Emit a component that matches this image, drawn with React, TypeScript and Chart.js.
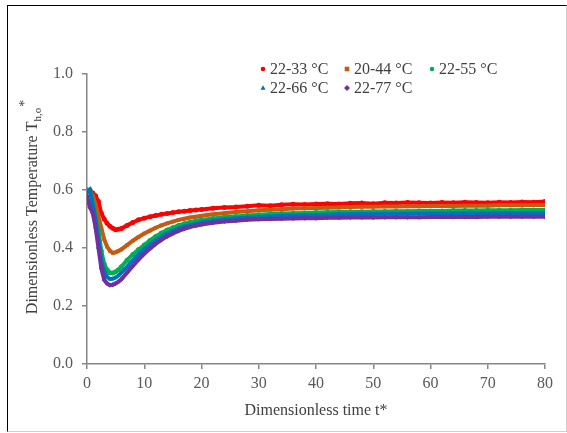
import React, { useEffect, useRef } from "react";
import { Chart, registerables } from "chart.js";

Chart.register(...registerables);

// ---- data ----
const timeValues = [
  0, 0.5, 1, 1.5, 2, 2.5, 3, 3.5, 4, 4.5, 5, 5.5, 6,
  7, 8, 9, 10, 11, 12, 13, 14, 15, 16, 17, 18, 19, 20,
  22, 24, 26, 28, 30, 32, 34, 36, 38, 40, 42, 44, 46, 48, 50, 52, 54, 56, 58, 60,
  62, 64, 66, 68, 70, 72, 74, 76, 78, 80,
];

const series2233 = [
  0.600, 0.600, 0.590, 0.580, 0.560, 0.520, 0.500, 0.485, 0.475, 0.468, 0.463, 0.465, 0.467,
  0.478, 0.488, 0.497, 0.503, 0.508, 0.512, 0.516, 0.519, 0.522, 0.525, 0.527, 0.529, 0.531, 0.533,
  0.537, 0.540, 0.541, 0.544, 0.547, 0.546, 0.549, 0.551, 0.550, 0.552, 0.553, 0.552, 0.554, 0.555,
  0.553, 0.556, 0.555, 0.557, 0.556, 0.555, 0.557, 0.556, 0.558, 0.557, 0.556, 0.558, 0.557, 0.559,
  0.558, 0.560,
];

const series2044 = [
  0.600, 0.600, 0.580, 0.550, 0.510, 0.470, 0.430, 0.405, 0.390, 0.383, 0.385, 0.390, 0.395,
  0.410, 0.425, 0.438, 0.450, 0.460, 0.470, 0.478, 0.485, 0.491, 0.497, 0.501, 0.505, 0.508, 0.511,
  0.516, 0.520, 0.524, 0.527, 0.530, 0.532, 0.534, 0.536, 0.537, 0.538, 0.539, 0.540, 0.541, 0.542,
  0.542, 0.543, 0.543, 0.544, 0.544, 0.545, 0.545, 0.545, 0.546, 0.546, 0.546, 0.547, 0.547, 0.547,
  0.548, 0.548,
];

const series2255 = [
  0.600, 0.600, 0.560, 0.510, 0.460, 0.390, 0.345, 0.325, 0.315, 0.314, 0.318, 0.325, 0.335,
  0.358, 0.378, 0.395, 0.410, 0.426, 0.440, 0.452, 0.462, 0.470, 0.478, 0.484, 0.489, 0.493, 0.497,
  0.502, 0.506, 0.509, 0.512, 0.515, 0.517, 0.519, 0.520, 0.521, 0.522, 0.523, 0.524, 0.525, 0.525,
  0.526, 0.526, 0.527, 0.527, 0.528, 0.528, 0.528, 0.529, 0.529, 0.529, 0.530, 0.530, 0.530, 0.531,
  0.531, 0.531,
];

const series2266 = [
  0.590, 0.600, 0.550, 0.500, 0.430, 0.355, 0.320, 0.300, 0.293, 0.294, 0.298, 0.305, 0.315,
  0.335, 0.357, 0.378, 0.396, 0.412, 0.426, 0.439, 0.450, 0.459, 0.467, 0.474, 0.479, 0.484, 0.488,
  0.494, 0.499, 0.502, 0.505, 0.507, 0.509, 0.511, 0.512, 0.513, 0.514, 0.515, 0.516, 0.516, 0.517,
  0.517, 0.518, 0.518, 0.518, 0.519, 0.519, 0.519, 0.520, 0.520, 0.520, 0.520, 0.521, 0.521, 0.521,
  0.521, 0.521,
];

const series2277 = [
  0.580, 0.540, 0.520, 0.470, 0.400, 0.330, 0.290, 0.278, 0.272, 0.273, 0.278, 0.284, 0.292,
  0.315, 0.338, 0.360, 0.380, 0.398, 0.414, 0.428, 0.440, 0.450, 0.459, 0.466, 0.472, 0.477, 0.481,
  0.487, 0.491, 0.494, 0.497, 0.499, 0.500, 0.501, 0.502, 0.503, 0.503, 0.504, 0.504, 0.505, 0.505,
  0.505, 0.506, 0.506, 0.506, 0.506, 0.507, 0.507, 0.507, 0.507, 0.507, 0.508, 0.508, 0.508, 0.508,
  0.508, 0.508,
];

const seriesLabels = ["22-33 °C", "20-44 °C", "22-55 °C", "22-66 °C", "22-77 °C"];
const seriesValues = [series2233, series2044, series2255, series2266, series2277];
const seriesColors = ["#FF0000", "#C55A11", "#00B050", "#0070C0", "#7030A0"];
const seriesMarkers = ["circle", "rect", "circle", "triangle", "rectRot"];

const xTickValues = [0, 10, 20, 30, 40, 50, 60, 70, 80];
const yTickValues = [0, 0.2, 0.4, 0.6, 0.8, 1.0];

const xTitle = "Dimensionless time t*";
const yTitleMain = "Dimensionless Temperature T";
const yTitleSub = "h,o";
const yTitleSup = "*";

const FONT = "'Liberation Serif', 'Times New Roman', serif";

function drawMarker(ctx: CanvasRenderingContext2D, style: string, x: number, y: number, r: number, color: string) {
  ctx.save();
  ctx.fillStyle = color;
  ctx.beginPath();
  if (style === "circle") {
    ctx.arc(x, y, r, 0, Math.PI * 2);
  } else if (style === "rect") {
    ctx.rect(x - r, y - r, 2 * r, 2 * r);
  } else if (style === "triangle") {
    ctx.moveTo(x, y - r * 1.2);
    ctx.lineTo(x + r * 1.1, y + r * 0.8);
    ctx.lineTo(x - r * 1.1, y + r * 0.8);
    ctx.closePath();
  } else {
    ctx.moveTo(x, y - r * 1.3);
    ctx.lineTo(x + r * 1.3, y);
    ctx.lineTo(x, y + r * 1.3);
    ctx.lineTo(x - r * 1.3, y);
    ctx.closePath();
  }
  ctx.fill();
  ctx.restore();
}

const overlayPlugin = {
  id: "overlay",
  afterDraw(chart: any) {
    const ctx: CanvasRenderingContext2D = chart.ctx;
    const area = chart.chartArea;
    // Y axis title with subscript & superscript
    ctx.save();
    ctx.fillStyle = "#404040";
    const mainFont = `16px ${FONT}`;
    const subFont = `11px ${FONT}`;
    const supFont = `14px ${FONT}`;
    ctx.font = mainFont;
    const wMain = ctx.measureText(yTitleMain).width;
    ctx.font = subFont;
    const wSub = ctx.measureText(yTitleSub).width;
    ctx.font = supFont;
    const wSup = ctx.measureText(yTitleSup).width;
    const total = wMain + wSub + wSup + 1;
    const cx = area.left - 54;
    const cy = (area.top + area.bottom) / 2 - 12;
    ctx.translate(cx, cy);
    ctx.rotate(-Math.PI / 2);
    ctx.textBaseline = "middle";
    ctx.textAlign = "left";
    let pos = -total / 2;
    ctx.font = mainFont;
    ctx.fillText(yTitleMain, pos, 0);
    pos += wMain;
    ctx.font = subFont;
    ctx.fillText(yTitleSub, pos, 5);
    pos += wSub + 1;
    ctx.font = supFont;
    ctx.fillText(yTitleSup, pos, -8);
    ctx.restore();

    // Legend
    ctx.save();
    ctx.font = `16px ${FONT}`;
    ctx.fillStyle = "#404040";
    ctx.textBaseline = "middle";
    ctx.textAlign = "left";
    const rowY = [area.top - 5, area.top + 14];
    const colX = [area.left + 176, area.left + 260, area.left + 345];
    const positions = [
      [colX[0], rowY[0]],
      [colX[1], rowY[0]],
      [colX[2], rowY[0]],
      [colX[0], rowY[1]],
      [colX[1], rowY[1]],
    ];
    seriesLabels.forEach((lab, i) => {
      const [mx, my] = positions[i];
      drawMarker(ctx, seriesMarkers[i], mx, my, 2.3, seriesColors[i]);
      ctx.fillText(lab, mx + 7, my + 1);
    });
    ctx.restore();
  },
};

export default function App() {
  const canvasRef = useRef<HTMLCanvasElement | null>(null);

  useEffect(() => {
    if (!canvasRef.current) return;
    const datasets = seriesValues.map((vals, i) => ({
      label: seriesLabels[i],
      data: timeValues.map((t, k) => ({ x: t, y: vals[k] })),
      showLine: true,
      borderColor: seriesColors[i],
      backgroundColor: seriesColors[i],
      borderWidth: 4,
      pointStyle: seriesMarkers[i] as any,
      pointRadius: 2.5,
      pointBorderWidth: 0,
      pointBackgroundColor: seriesColors[i],
      tension: 0,
      order: seriesLabels.length - i,
    }));

    const chart = new Chart(canvasRef.current, {
      type: "scatter",
      data: { datasets },
      plugins: [overlayPlugin],
      options: {
        responsive: false,
        animation: false,
        devicePixelRatio: 1,
        layout: { padding: { left: 0, right: 21, top: 68, bottom: 0 } },
        plugins: {
          legend: { display: false },
          tooltip: { enabled: false },
        },
        scales: {
          x: {
            type: "linear",
            min: 0,
            max: 80,
            afterFit: (s: any) => {
              s.height = 67;
            },
            afterBuildTicks: (s: any) => {
              s.ticks = xTickValues.map((v) => ({ value: v }));
            },
            ticks: {
              color: "#595959",
              font: { family: FONT, size: 16 },
              padding: 5,
              maxRotation: 0,
              callback: (v: any) => String(v),
            },
            grid: {
              drawOnChartArea: false,
              drawTicks: true,
              tickLength: 5,
              color: "#868686",
              lineWidth: 1.5,
            },
            border: { color: "#868686", width: 1.5 },
            title: {
              display: true,
              text: xTitle,
              color: "#404040",
              font: { family: FONT, size: 16 },
              padding: { top: 0, bottom: 11 },
            },
          },
          y: {
            type: "linear",
            min: 0,
            max: 1,
            afterFit: (s: any) => {
              s.width = 79;
            },
            afterBuildTicks: (s: any) => {
              s.ticks = yTickValues.map((v) => ({ value: v }));
            },
            ticks: {
              color: "#595959",
              font: { family: FONT, size: 16 },
              padding: 9,
              callback: (v: any) => Number(v).toFixed(1),
            },
            grid: {
              drawOnChartArea: false,
              drawTicks: true,
              tickLength: 5,
              color: "#868686",
              lineWidth: 1.5,
            },
            border: { color: "#868686", width: 1.5 },
          },
        },
      },
    });
    return () => chart.destroy();
  }, []);

  return (
    <div
      style={{
        position: "absolute",
        left: 7,
        top: 5,
        width: 560,
        height: 427,
        boxSizing: "border-box",
        borderTop: "1px solid #000",
        borderLeft: "1px solid #000",
        borderRight: "1px solid #cfcfcf",
        borderBottom: "1px solid #cfcfcf",
        background: "#fff",
      }}
    >
      <canvas ref={canvasRef} width={558} height={425} style={{ display: "block", width: 558, height: 425 }} />
    </div>
  );
}
